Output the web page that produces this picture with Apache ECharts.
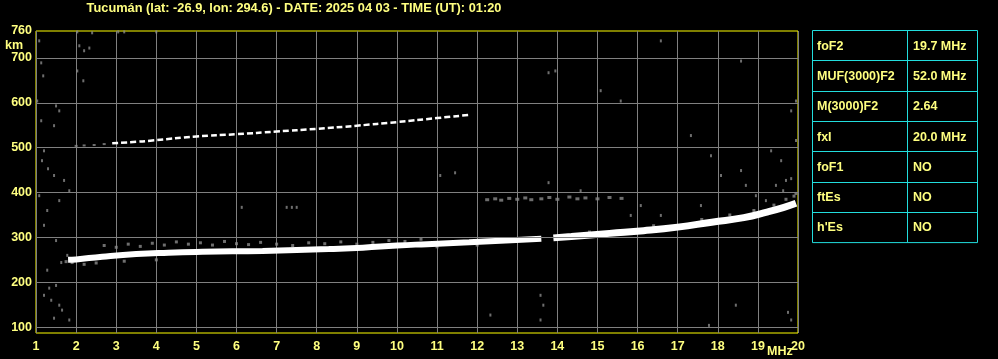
<!DOCTYPE html>
<html>
<head>
<meta charset="utf-8">
<script src="https://cdn.jsdelivr.net/npm/echarts@6/dist/echarts.min.js"></script>
<style>
html,body{margin:0;padding:0;background:#000;}
#chart{width:998px;height:359px;}
</style>
</head>
<body>
<div id="chart"></div>
<script>
// ---- data ----
const titleText = 'Tucumán (lat: -26.9, lon: 294.6) - DATE: 2025 04 03 - TIME (UT): 01:20';
const xMin = 1, xMax = 20;
const yMin = 87, yMax = 760;
const yTickLabels = [100, 200, 300, 400, 500, 600, 700, 760];
const gridHeights = [100, 200, 300, 400, 500, 600, 700];

// lower (F2 ordinary) trace: frequency (MHz) / virtual height (km)
const lowerFreqA   = [1.8, 2.0, 2.65, 3.5, 4.3, 5.15, 5.9, 6.65, 7.5, 8.3, 9.15, 10.0, 10.75, 11.8, 13.1, 13.6];
const lowerHeightA = [250, 251, 257, 263, 266, 268, 269, 270, 272, 274, 277, 282, 285, 289, 295, 297];
const lowerFreqB   = [13.9, 14.35, 15.3, 16.15, 17.0, 17.85, 18.65, 19.25, 19.65, 19.95];
const lowerHeightB = [299, 302, 309, 315, 323, 334, 344, 357, 367, 376];

// upper (second hop) trace
const upperFreq   = [2.9, 3.5, 3.9, 5.0, 6.0, 7.0, 8.0, 9.0, 10.0, 11.0, 11.8];
const upperHeight = [510, 513, 516, 525, 530, 536, 542, 549, 557, 566, 573];
const upperStart  = [[2.0, 504], [2.2, 505], [2.45, 506], [2.7, 508]];

// weak echo band around 385 km
const echoBand = [[12.25,384],[12.45,386],[12.6,383],[12.8,387],[13.0,385],[13.2,388],[13.35,384],[13.6,386],
  [13.8,389],[14.0,385],[14.3,390],[14.5,386],[14.7,388],[15.0,386],[15.3,389],[15.6,387]];

// fuzz around the lower trace
const traceFuzz = [[1.75,246],[1.9,244],[2.1,254],[2.2,240],[2.5,243],[2.7,282],[3.0,278],[3.2,247],[3.3,285],
  [3.6,280],[3.9,287],[4.0,250],[4.2,283],[4.5,290],[4.8,285],[5.1,288],[5.4,283],[5.7,291],[6.0,286],[6.3,284],
  [6.6,289],[7.0,285],[7.4,282],[7.8,288],[8.2,286],[8.6,290],[9.0,285],[9.4,289],[9.8,293],[10.2,291],[10.6,296],
  [11.0,279],[12.0,283],[14.8,312],[16.4,326],[17.6,340],[18.3,350],[18.9,360],[19.4,372],[19.7,385],[19.9,392],[19.95,398]];

// scattered noise
const noise = [[1.08,738],[1.13,689],[1.18,660],[1.03,604],[1.5,593],[1.58,582],[1.13,560],[1.45,549],[1.2,493],
  [1.15,471],[1.3,453],[1.45,438],[1.7,427],[1.08,393],[1.28,360],[1.58,382],[1.83,404],[1.2,327],[1.5,293],
  [1.78,260],[1.5,193],[1.33,187],[1.2,171],[1.38,160],[1.58,149],[1.45,120],[1.65,138],[1.83,116],[1.28,227],
  [1.63,244],[2.03,758],[2.4,756],[3.05,758],[3.2,758],[4.0,758],[2.08,727],[2.2,716],[2.33,722],[2.03,671],
  [2.18,649],[6.13,367],[7.25,367],[7.38,367],[7.5,367],[19.95,604],[19.83,582],[19.2,382],[19.45,416],
  [19.63,404],[18.58,449],[18.7,416],[18.95,393],[18.08,438],[17.33,527],[17.83,482],[17.58,371],[16.58,349],
  [16.08,371],[15.83,349],[15.58,604],[13.95,671],[13.78,667],[15.08,627],[16.58,738],[18.58,693],[19.33,493],
  [19.58,471],[19.83,431],[19.95,516],[19.7,427],[13.58,171],[13.65,149],[13.58,116],[18.45,149],[17.78,104],
  [19.75,133],[19.83,116],[12.33,127],[11.08,438],[11.45,444],[13.78,422],[14.58,404]];

// parameter table
const tableLabels = ['foF2', 'MUF(3000)F2', 'M(3000)F2', 'fxI', 'foF1', 'ftEs', "h'Es"];
const tableValues = ['19.7 MHz', '52.0 MHz', '2.64', '20.0 MHz', 'NO', 'NO', 'NO'];

// ---- styles ----
const YEL = '#ffff80';
const CYAN = '#22dddd';
const FONT = 'Liberation Sans';

const zip = (a, b) => a.map((v, i) => [v, b[i]]);

const chart = echarts.init(document.getElementById('chart'), null, {renderer: 'canvas'});

// table graphics
const tbl = {left: 812, top: 30, right: 977, split: 907, rowH: 30.3};
const tableGraphics = [];
tableGraphics.push({type: 'rect', shape: {x: tbl.left + 0.5, y: tbl.top + 0.5, width: tbl.right - tbl.left, height: tbl.rowH * tableLabels.length},
  style: {fill: 'none', stroke: CYAN, lineWidth: 1}});
tableGraphics.push({type: 'line', shape: {x1: tbl.split + 0.5, y1: tbl.top, x2: tbl.split + 0.5, y2: tbl.top + tbl.rowH * tableLabels.length},
  style: {stroke: CYAN, lineWidth: 1}});
tableLabels.forEach((lab, i) => {
  const y0 = tbl.top + tbl.rowH * i;
  if (i > 0) {
    tableGraphics.push({type: 'line', shape: {x1: tbl.left, y1: Math.round(y0) + 0.5, x2: tbl.right, y2: Math.round(y0) + 0.5},
      style: {stroke: CYAN, lineWidth: 1}});
  }
  tableGraphics.push({type: 'text', x: tbl.left + 5, y: y0 + tbl.rowH / 2 + 1,
    style: {text: lab, fill: YEL, font: 'bold 12.5px ' + FONT, textVerticalAlign: 'middle', verticalAlign: 'middle'}});
  tableGraphics.push({type: 'text', x: tbl.split + 6, y: y0 + tbl.rowH / 2 + 1,
    style: {text: tableValues[i], fill: YEL, font: 'bold 12.5px ' + FONT, textVerticalAlign: 'middle', verticalAlign: 'middle'}});
});

const option = {
  backgroundColor: '#000',
  animation: false,
  grid: {left: 36, right: 200, top: 31, bottom: 26, show: true, borderColor: '#ffff00', borderWidth: 1, backgroundColor: '#000', z: 0},
  xAxis: {
    type: 'value', min: xMin, max: xMax, interval: 1,
    axisLine: {show: false}, axisTick: {show: false},
    axisLabel: {color: YEL, fontFamily: FONT, fontWeight: 'bold', fontSize: 12.5, margin: 7},
    splitLine: {show: true, lineStyle: {color: '#808080', width: 1}}
  },
  yAxis: {
    type: 'value', min: yMin, max: yMax,
    axisLine: {show: false}, axisTick: {show: false},
    axisLabel: {color: YEL, fontFamily: FONT, fontWeight: 'bold', fontSize: 12.5, margin: 4, customValues: yTickLabels},
    splitLine: {show: false}
  },
  graphic: [
    {type: 'text', x: 294, y: 8, style: {text: titleText, fill: YEL, font: 'bold 12.8px ' + FONT, textAlign: 'center', textVerticalAlign: 'middle', align: 'center', verticalAlign: 'middle'}},
    {type: 'text', x: 5, y: 46, style: {text: 'km', fill: YEL, font: 'bold 12.5px ' + FONT, textVerticalAlign: 'middle', verticalAlign: 'middle'}},
    {type: 'text', x: 767, y: 352, style: {text: 'MHz', fill: YEL, font: 'bold 12.5px ' + FONT, textVerticalAlign: 'middle', verticalAlign: 'middle'}},
    ...tableGraphics
  ],
  series: [
    {
      type: 'line', data: [], z: 1, silent: true,
      markLine: {
        silent: true, symbol: 'none', label: {show: false},
        lineStyle: {color: '#808080', width: 1, type: 'solid'},
        data: gridHeights.map(h => ({yAxis: h}))
      }
    },
    {type: 'scatter', data: noise, symbol: 'rect', symbolSize: [2, 3], itemStyle: {color: '#8a8a8a'}, z: 2, silent: true},
    {type: 'scatter', data: echoBand, symbol: 'rect', symbolSize: [4, 3], itemStyle: {color: '#8a8a8a'}, z: 2, silent: true},
    {type: 'scatter', data: traceFuzz, symbol: 'rect', symbolSize: [3, 3], itemStyle: {color: '#8a8a8a'}, z: 2, silent: true},
    {type: 'scatter', data: upperStart, symbol: 'rect', symbolSize: [3, 2], itemStyle: {color: '#8a8a8a'}, z: 2, silent: true},
    {type: 'line', data: zip(upperFreq, upperHeight), showSymbol: false, smooth: true, z: 3, silent: true,
      lineStyle: {color: '#ffffff', width: 2.5, type: [6, 3]}},
    {type: 'line', data: zip(lowerFreqA, lowerHeightA), showSymbol: false, smooth: true, z: 3, silent: true,
      lineStyle: {color: '#ffffff', width: 6}},
    {type: 'line', data: zip(lowerFreqB, lowerHeightB), showSymbol: false, smooth: true, z: 3, silent: true,
      lineStyle: {color: '#ffffff', width: 7}}
  ]
};
chart.setOption(option);
</script>
</body>
</html>
